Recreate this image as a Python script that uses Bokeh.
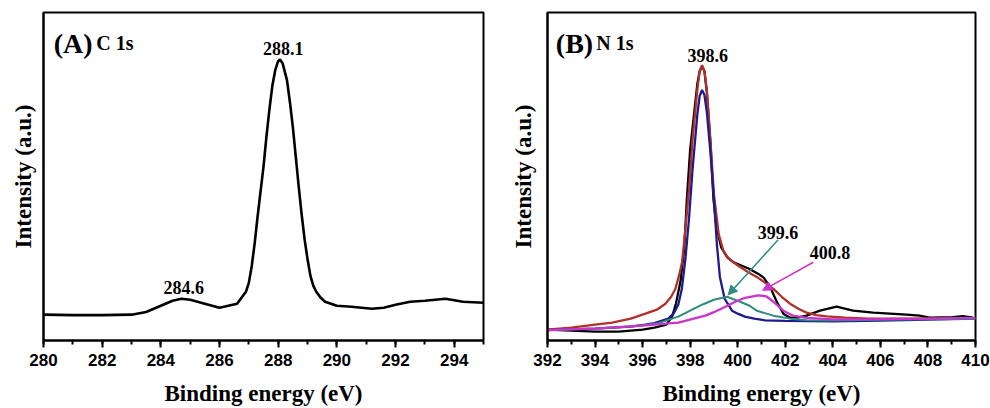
from bokeh.plotting import figure
from bokeh.layouts import row
from bokeh.models import Range1d, SingleIntervalTicker, FixedTicker, Arrow, NormalHead, Label
from bokeh.embed import file_html
from bokeh.resources import INLINE

# ---------------- data ----------------
c1s_energy = [280, 281, 282, 283, 283.5, 284, 284.4, 284.7, 285, 285.5, 286, 286.6, 286.9,
              287.0, 287.1, 287.2, 287.3, 287.4, 287.5, 287.6, 287.7, 287.8, 287.9, 288.0,
              288.06, 288.15, 288.3, 288.4, 288.5, 288.6, 288.7, 288.8, 288.9, 289.0, 289.1,
              289.2, 289.3, 289.45, 289.6, 290, 290.5, 291.2, 291.6, 292, 292.5, 293, 293.7,
              294.3, 295]
c1s_intensity = [26, 25.5, 25.5, 26, 28.7, 35, 40, 42, 41, 37, 33, 37, 49,
                 58, 75, 98, 125, 150, 175, 205, 232, 256, 272, 281,
                 282.7, 279, 262, 240, 215, 185, 155, 127, 102, 82, 65,
                 55, 49, 43, 39, 35, 34, 32, 33, 36, 39, 40, 42,
                 39, 38]

n1s_energy_raw = [392.0, 393.0, 394.0, 395.0, 396.0, 396.5, 397.0, 397.24, 397.4, 397.59, 397.75,
                  397.86, 398.0, 398.15, 398.3, 398.4, 398.5, 398.6, 398.7, 398.85, 398.98, 399.1,
                  399.3, 399.55, 399.8, 400.1, 400.5, 400.87, 401.1, 401.36, 401.64, 401.92, 402.2,
                  402.5, 402.9, 403.46, 404.16, 404.85, 405.7, 407.1, 407.65, 408.07, 409.04,
                  409.46, 409.9]
n1s_intensity_raw = [11, 10, 9, 9, 11, 13, 16, 24, 37, 59, 92,
                     142, 192, 225, 258, 271, 276, 271, 250, 200, 142, 115,
                     94, 84, 79, 76, 72, 67, 63, 54, 39, 27, 23,
                     23, 25, 30, 34, 30, 28, 26, 25, 23, 23.5,
                     24.5, 23]

n1s_energy_env = [392.0, 393.0, 394.0, 394.72, 395.5, 396.12, 396.6, 396.96, 397.2, 397.38, 397.55,
                  397.66, 397.8, 397.95, 398.1, 398.3, 398.4, 398.5, 398.6, 398.7, 398.85, 399.0,
                  399.2, 399.4, 399.6, 399.8, 400.1, 400.5, 400.8, 401.1, 401.5, 401.85, 402.2,
                  402.55, 402.9, 403.3, 403.74, 404.5, 405.5, 407.0, 410.0]
n1s_intensity_env = [11, 13, 16, 18, 22, 27, 31, 37, 44, 52, 67,
                     79, 112, 152, 202, 252, 271, 277, 271, 252, 202, 147,
                     107, 90, 83, 79, 74, 68, 64, 59, 52, 44, 37,
                     32, 28, 25.5, 24.3, 23, 22, 22, 22.5]

n1s_energy_p1 = [392.0, 394.0, 395.5, 396.12, 396.5, 397.08, 397.3, 397.5, 397.65, 397.8, 397.95,
                 398.1, 398.3, 398.4, 398.5, 398.6, 398.7, 398.85, 399.0, 399.13, 399.25, 399.45,
                 399.76, 400.0, 400.3, 400.7, 401.15, 402.0, 404.0, 406.0, 408.0, 410.0]
n1s_intensity_p1 = [10.5, 12, 14, 16, 17.5, 22, 27, 36, 52, 82, 122,
                    172, 227, 246, 252, 247, 230, 190, 142, 95, 64, 42,
                    30, 27, 24, 22, 20.3, 19.7, 19.3, 20, 21, 22]

n1s_energy_p2 = [392.0, 394.0, 395.5, 396.6, 397.5, 398.0, 398.5, 399.0, 399.55, 400.1, 400.5,
                 400.8, 401.5, 402.2, 402.9, 404.0, 406.0, 408.0, 410.0]
n1s_intensity_p2 = [10.5, 12, 14, 17, 24, 30, 36, 41, 44, 39, 35,
                    30, 25, 22, 20.3, 20, 21, 21.5, 22]

n1s_energy_p3 = [392.0, 394.0, 396.0, 397.5, 398.64, 399.0, 399.48, 399.9, 400.3, 400.87, 401.2,
                 401.5, 401.92, 402.33, 402.9, 404.0, 406.0, 408.0, 410.0]
n1s_intensity_p3 = [10.5, 12, 15, 18, 25, 28.5, 34, 39, 43, 45.5, 44.5,
                    39, 30, 25, 22.7, 21.3, 21.5, 22, 22.7]

SERIF = "Liberation Serif"
SANS = "Liberation Sans"


def make_fig(xr, width, left, right, ylabel_standoff):
    p = figure(width=width, height=408, x_range=Range1d(*xr), y_range=Range1d(0, 330),
               output_backend="svg", toolbar_location=None,
               min_border_left=left, min_border_right=right, min_border_top=12,
               min_border_bottom=66, background_fill_color="white",
               border_fill_color="white")
    p.xgrid.visible = False
    p.ygrid.visible = False
    p.outline_line_color = "black"
    p.outline_line_width = 2
    p.outline_line_alpha = 1

    xa = p.xaxis[0]
    xa.ticker = SingleIntervalTicker(interval=2, num_minor_ticks=2)
    xa.axis_line_width = 2
    xa.axis_line_color = "black"
    xa.major_tick_line_width = 2
    xa.minor_tick_line_width = 2
    xa.major_tick_in = 0
    xa.major_tick_out = 7
    xa.minor_tick_in = 0
    xa.minor_tick_out = 4
    xa.major_label_text_font = SANS
    xa.major_label_text_font_style = "bold"
    xa.major_label_text_font_size = "17px"
    xa.major_label_text_color = "black"
    xa.major_label_standoff = 6
    xa.axis_label = "Binding energy (eV)"
    xa.axis_label_text_font = SERIF
    xa.axis_label_text_font_style = "bold"
    xa.axis_label_text_font_size = "23px"
    xa.axis_label_text_color = "black"
    xa.axis_label_standoff = 12

    ya = p.yaxis[0]
    ya.ticker = FixedTicker(ticks=[])
    ya.axis_line_width = 2
    ya.axis_line_color = "black"
    ya.major_tick_in = 0
    ya.major_tick_out = 0
    ya.minor_tick_in = 0
    ya.minor_tick_out = 0
    ya.major_label_standoff = 0
    ya.major_label_text_font_size = "1px"
    ya.axis_label = "Intensity (a.u.)"
    ya.axis_label_text_font = SERIF
    ya.axis_label_text_font_style = "bold"
    ya.axis_label_text_font_size = "23px"
    ya.axis_label_text_color = "black"
    ya.axis_label_standoff = ylabel_standoff
    return p


def add_label(p, x, y, text, size="18px", align="center", baseline="middle"):
    p.add_layout(Label(x=x, y=y, text=text, text_font=SERIF, text_font_style="bold",
                       text_font_size=size, text_align=align, text_baseline=baseline,
                       text_color="black"))


# ---------------- panel A ----------------
pa = make_fig((280, 295), 500, 43, 17, 8)
pa.line(c1s_energy, c1s_intensity, line_color="black", line_width=2.6)
add_label(pa, 280.35, 299, "(A)", size="28px", align="left", baseline="alphabetic")
add_label(pa, 281.8, 299, "C 1s", size="20px", align="left", baseline="alphabetic")
add_label(pa, 288.17, 293.7, "288.1")
add_label(pa, 284.78, 53.7, "284.6")

# ---------------- panel B ----------------
pb = make_fig((392, 410), 490, 47, 15, 12)
pb.line(n1s_energy_raw, n1s_intensity_raw, line_color="black", line_width=2.3)
pb.line(n1s_energy_env, n1s_intensity_env, line_color="#b0302a", line_width=2.3)
pb.line(n1s_energy_p1, n1s_intensity_p1, line_color="#1f1a8f", line_width=2.3)
pb.line(n1s_energy_p2, n1s_intensity_p2, line_color="#2e8b80", line_width=2.0)
pb.line(n1s_energy_p3, n1s_intensity_p3, line_color="#cc33cc", line_width=2.3)

pb.add_layout(Arrow(end=NormalHead(size=9, fill_color="#2e8b80", line_color="#2e8b80"),
                    x_start=401.7, y_start=101.3, x_end=399.6, y_end=46,
                    line_color="#2e8b80", line_width=1.5))
pb.add_layout(Arrow(end=NormalHead(size=9, fill_color="#cc33cc", line_color="#cc33cc"),
                    x_start=403.18, y_start=78.7, x_end=401.05, y_end=50.5,
                    line_color="#cc33cc", line_width=1.5))

add_label(pb, 392.35, 299, "(B)", size="28px", align="left", baseline="alphabetic")
add_label(pb, 394.05, 299, "N 1s", size="20px", align="left", baseline="alphabetic")
add_label(pb, 398.74, 287, "398.6")
add_label(pb, 401.69, 108.5, "399.6")
add_label(pb, 403.88, 88.7, "400.8")

layout = row(pa, pb)
open("out.html", "w").write(file_html(layout, INLINE))
